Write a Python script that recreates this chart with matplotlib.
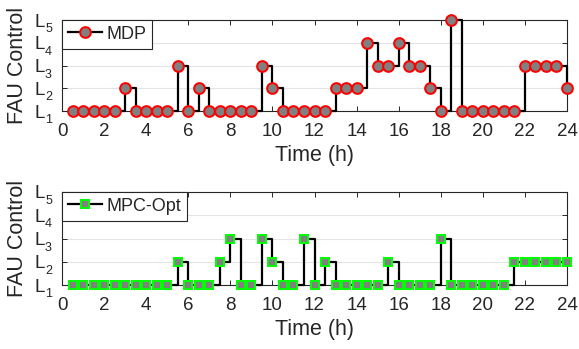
import matplotlib
matplotlib.use("Agg")
import matplotlib.pyplot as plt
from matplotlib.transforms import blended_transform_factory, ScaledTranslation

plt.rcParams['font.family'] = ['Liberation Sans', 'DejaVu Sans']

# ---- data ----
hours = [0.5, 1.0, 1.5, 2.0, 2.5, 3.0, 3.5, 4.0, 4.5, 5.0, 5.5, 6.0,
         6.5, 7.0, 7.5, 8.0, 8.5, 9.0, 9.5, 10.0, 10.5, 11.0, 11.5, 12.0,
         12.5, 13.0, 13.5, 14.0, 14.5, 15.0, 15.5, 16.0, 16.5, 17.0, 17.5, 18.0,
         18.5, 19.0, 19.5, 20.0, 20.5, 21.0, 21.5, 22.0, 22.5, 23.0, 23.5, 24.0]
mdp = [1, 1, 1, 1, 1, 2, 1, 1, 1, 1, 3, 1,
       2, 1, 1, 1, 1, 1, 3, 2, 1, 1, 1, 1,
       1, 2, 2, 2, 4, 3, 3, 4, 3, 3, 2, 1,
       5, 1, 1, 1, 1, 1, 1, 3, 3, 3, 3, 2]
mpc = [1, 1, 1, 1, 1, 1, 1, 1, 1, 1, 2, 1,
       1, 1, 2, 3, 1, 1, 3, 2, 1, 1, 3, 1,
       2, 1, 1, 1, 1, 1, 2, 1, 1, 1, 1, 3,
       1, 1, 1, 1, 1, 1, 2, 2, 2, 2, 2, 2]
level_values = [1, 2, 3, 4, 5]
level_subs = ['1', '2', '3', '4', '5']
xticks = [0, 2, 4, 6, 8, 10, 12, 14, 16, 18, 20, 22, 24]

fig = plt.figure(figsize=(5.79, 3.49), dpi=100)
ax1 = fig.add_axes([62/579, 1-111/349, 505/579, 91/349])
ax2 = fig.add_axes([62/579, 1-285/349, 505/579, 93/349])

dark = '#262626'

def style(ax, xlab_y):
    ax.set_xlim(0, 24)
    ax.set_ylim(1, 5)
    ax.set_xticks(xticks)
    ax.set_xticklabels([str(t) for t in xticks])
    ax.set_yticks(level_values)
    ax.set_yticklabels(['L'] * len(level_values))
    ax.tick_params(axis='both', direction='in', length=3.5, width=0.7,
                   colors=dark, top=True, right=True, labelsize=13.5)
    ax.tick_params(axis='x', pad=9)
    ax.tick_params(axis='y', pad=12)
    for s in ax.spines.values():
        s.set_color(dark)
        s.set_linewidth(0.8)
    ax.yaxis.grid(True, color='#e3e3e3', linewidth=0.8)
    ax.set_axisbelow(True)
    ax.set_xlabel('Time (h)', fontsize=15.5, color=dark)
    ax.xaxis.set_label_coords(0.5, xlab_y)
    ax.set_ylabel('FAU Control', fontsize=15.5, color=dark)
    ax.yaxis.set_label_coords(-0.0673, 0.5)
    trans = blended_transform_factory(ax.transAxes, ax.transData)
    for v, s in zip(level_values, level_subs):
        ax.text(0, v, s, fontsize=9, color=dark, ha='left', va='top',
                transform=trans + ScaledTranslation(-12.2/72, -2.2/72, fig.dpi_scale_trans))

style(ax1, -0.370)
style(ax2, -0.362)

ax1.step(hours, mdp, where='post', color='black', linewidth=1.6,
         marker='o', markersize=7.7, markerfacecolor='#808080',
         markeredgecolor='#ff0000', markeredgewidth=1.45, clip_on=False,
         label='MDP', zorder=3)
ax2.step(hours, mpc, where='post', color='black', linewidth=1.6,
         marker='s', markersize=6.3, markerfacecolor='#808080',
         markeredgecolor='#00ff00', markeredgewidth=1.45, clip_on=False,
         label='MPC-Opt', zorder=3)

for ax in (ax1, ax2):
    leg = ax.legend(loc='upper left', bbox_to_anchor=(0, 1), borderaxespad=0,
                    fontsize=13, fancybox=False, framealpha=1,
                    edgecolor=dark, borderpad=0.32, handlelength=1.9,
                    handletextpad=0.25)
    leg.get_frame().set_linewidth(0.8)
    for t in leg.get_texts():
        t.set_color(dark)

fig.savefig('out.png', dpi=100)
